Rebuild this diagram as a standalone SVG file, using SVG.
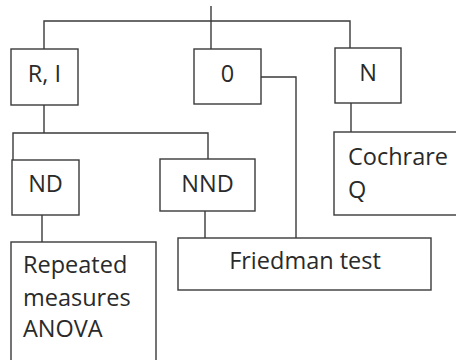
<svg xmlns="http://www.w3.org/2000/svg" width="456" height="360" viewBox="0 0 456 360">
<style>
.box{fill:#fff;stroke:#3a3a3a;stroke-width:1.4}
.ln{fill:none;stroke:#3a3a3a;stroke-width:1.4}
text{font-family:"Open Sans","Lato","Liberation Sans",sans-serif;font-size:23.5px;fill:#2a2a2a}
.c{text-anchor:middle}
</style>
<rect width="456" height="360" fill="#fff"/>
<g id="connectors">
<path class="ln" d="M211,6 V49"/>
<path class="ln" d="M44,49 V21 H350 V48"/>
<path class="ln" d="M44,105 V133 M13,160 V133 H208 V159"/>
<path class="ln" d="M261,77 H296 V238"/>
<path class="ln" d="M351,103 V132"/>
<path class="ln" d="M42,215 V242"/>
<path class="ln" d="M205,211 V238"/>
</g>
<g id="ri"><rect class="box" x="11" y="49" width="67" height="56"/><text class="c" x="44.5" y="82">R, I</text></g>
<g id="zero"><rect class="box" x="194" y="49" width="67" height="55"/><text class="c" x="227.5" y="82">0</text></g>
<g id="n"><rect class="box" x="335" y="48" width="66" height="55"/><text class="c" x="368" y="81">N</text></g>
<g id="nd"><rect class="box" x="12" y="160" width="67" height="55"/><text class="c" x="45.5" y="192">ND</text></g>
<g id="nnd"><rect class="box" x="160" y="159" width="95" height="52"/><text class="c" x="207.5" y="192">NND</text></g>
<g id="cochrare"><rect class="box" x="334" y="132" width="130" height="83"/><text x="348" y="165">Cochrare</text><text x="348" y="198">Q</text></g>
<g id="anova"><rect class="box" x="11" y="242" width="145" height="130"/><text x="23" y="273">Repeated</text><text x="23" y="306">measures</text><text x="23" y="337">ANOVA</text></g>
<g id="friedman"><rect class="box" x="178" y="238" width="253" height="52"/><text class="c" x="305" y="269">Friedman test</text></g>
</svg>
